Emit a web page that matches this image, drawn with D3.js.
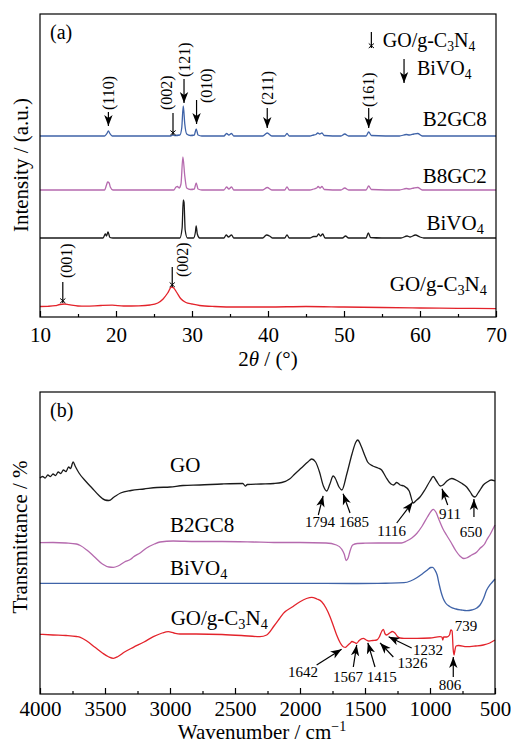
<!DOCTYPE html>
<html lang="en">
<head>
<meta charset="utf-8">
<title>XRD and FTIR of BiVO4 / GO/g-C3N4</title>
<script src="https://cdn.jsdelivr.net/npm/d3@7"></script>
<style>
body { margin: 0; background: #fff; }
text { font-family: "Liberation Serif", "Times New Roman", serif; fill: #000; }
</style>
</head>
<body>
<script>
// ---------- data ----------
var xrdTicks = [10, 20, 30, 40, 50, 60, 70];
var xrdMinor = [15, 25, 35, 45, 55, 65];
var ftirTicks = [4000, 3500, 3000, 2500, 2000, 1500, 1000, 500];
var ftirMinor = [3750, 3250, 2750, 2250, 1750, 1250, 750];

// XRD series: [2theta, intensity above own baseline]
var xrdB2GC8 = [[10,0],[15,0],[18.5,0],[18.8,2.5],[19.0,5],[19.2,2.5],[19.5,0],[27.2,0],[27.45,1],[27.7,0.5],[28.4,1],[28.65,8],[28.85,30],[29.05,12],[29.3,2],[29.8,0.5],[30.3,1],[30.55,7],[30.8,1],[31.3,0],[34.2,0],[34.55,2.5],[34.85,1],[35.2,2.5],[35.5,0],[39.3,0],[39.9,3],[40.5,0],[42.2,0],[42.5,2.5],[42.8,0],[45.5,0],[46.0,1],[46.3,1.5],[46.55,3],[46.8,2],[47.1,3],[47.4,0.5],[49.6,0],[50.1,2],[50.6,0],[52.9,0],[53.25,4],[53.6,0.5],[57.3,0],[58.2,1.5],[58.6,1],[59.2,2],[59.7,2.5],[60.3,0],[65,0],[70,0]];
var xrdB8GC2 = [[10,0],[15,0],[18.5,0],[18.75,5],[18.9,8],[19.1,7],[19.25,3],[19.6,0],[27.6,0],[27.9,3],[28.1,3.5],[28.3,2],[28.55,6],[28.8,33],[29.05,14],[29.3,2],[29.8,0.5],[30.3,1],[30.55,7],[30.8,1],[31.3,0],[34.2,0],[34.55,3],[34.85,1],[35.2,3],[35.5,0],[39.3,0],[39.9,2.5],[40.5,0],[42.2,0],[42.5,3],[42.8,0],[45.5,0],[46.0,1],[46.4,2],[46.6,3.5],[46.85,2],[47.1,3.5],[47.4,0.5],[49.6,0],[50.1,2],[50.6,0],[52.9,0],[53.25,4],[53.6,0.5],[57.3,0],[58.2,1.5],[58.6,1],[59.2,2],[59.7,2.5],[60.3,0],[65,0],[70,0]];
var xrdBiVO4 = [[10,0],[15,0],[18.3,0],[18.6,4],[18.75,2],[18.95,6],[19.2,0.5],[19.6,0],[28.4,0],[28.7,10],[28.85,38],[28.95,36],[29.1,8],[29.4,0],[30.2,0],[30.45,6],[30.55,12],[30.7,4],[31,0],[34.2,0],[34.5,3],[34.8,1],[35.2,3],[35.5,0],[39.3,0],[39.8,3],[40.3,1.5],[40.6,0],[42.2,0],[42.5,3],[42.8,0],[45.5,0],[46.0,1.5],[46.4,1.5],[46.65,4],[46.9,2],[47.2,4],[47.5,0],[49.8,0],[50.2,2],[50.6,0],[52.9,0],[53.2,5],[53.5,0.5],[55,0],[57.5,0],[58.3,2],[58.7,1],[59.4,3],[60.0,1],[60.5,0],[65,0],[70,0]];
var xrdGOCN = [[10,0.5],[11,0.7],[12,1.3],[12.6,2.5],[13.2,3],[13.8,2.3],[15,1],[16,0.8],[18,1.5],[19.5,1.8],[21,1],[23,1.2],[24.5,2],[25.5,4],[26.2,8],[26.8,14],[27.3,20],[27.6,19],[28,14.5],[28.5,8.5],[29.2,4.5],[30,3],[31,1.5],[33,0.5],[36,0],[40,0],[45,0.5],[50,0],[55,-0.5],[60,-1],[65,-1.3],[70,-1.7]];
var xrdNames = ["B2GC8", "B8GC2", "BiVO_4", "GO/g-C_3N_4"];
var xrdOffsets = [181, 127, 79, 10];

// peak markers: x = 2theta, tail/tip in intensity, kind b = BiVO4, g = GO/g-C3N4
var xrdNotes = [
  {label: "(110)", x: 19.0, tail: 205, tip: 187, lx: 19.0, ly: 207, kind: "b"},
  {label: "(002)", x: 27.5, tail: 204, tip: 182, lx: 26.7, ly: 207, kind: "g"},
  {label: "(121)", x: 28.95, tail: 238, tip: 210, lx: 29.0, ly: 240, kind: "b"},
  {label: "(010)", x: 30.6, tail: 217, tip: 189, lx: 32.0, ly: 214, kind: "b"},
  {label: "(211)", x: 39.9, tail: 209, tip: 185, lx: 39.9, ly: 212, kind: "b"},
  {label: "(161)", x: 53.25, tail: 209, tip: 185, lx: 53.3, ly: 210, kind: "b"},
  {label: "(001)", x: 13.0, tail: 35, tip: 14, lx: 13.5, ly: 39, kind: "g"},
  {label: "(002)", x: 27.4, tail: 50, tip: 30, lx: 28.8, ly: 40, kind: "g"}
];

// FTIR series: [wavenumber, transmittance (offset a.u.)]
var ftirGO = [[4000,216],[3980,217.5],[3960,216],[3940,219],[3920,217.5],[3900,220],[3880,218.5],[3860,222],[3840,220.5],[3820,224],[3800,222.5],[3780,227],[3765,225.5],[3745,232],[3730,228],[3700,221],[3650,213],[3600,206],[3550,199],[3500,194],[3470,193.5],[3430,197],[3380,201],[3300,203.5],[3200,205],[3100,206.5],[3000,207],[2900,208.5],[2770,209],[2600,210],[2440,210.5],[2420,208],[2405,209.5],[2300,210],[2200,210.5],[2140,211.5],[2080,215],[2040,220],[1990,226],[1940,232],[1910,235],[1880,232],[1850,222],[1820,208],[1795,203],[1770,210],[1745,218],[1730,216],[1700,207],[1678,204],[1640,220],[1600,240],[1570,252],[1556,254],[1530,248],[1500,238],[1480,232],[1440,228],[1400,226],[1372,224],[1340,217],[1300,210],[1280,209],[1256,211.5],[1230,209],[1200,208],[1160,203],[1128,191],[1110,193],[1077,197],[1040,204],[1000,213],[975,217.5],[950,213],[920,208],[900,209],[870,213],[833,215.5],[800,214],[760,211],[718,207],[690,202],[670,198],[654,197],[630,201],[610,205],[590,209],[560,212],[530,214],[500,213]];
var ftirB2GC8 = [[4000,151.3],[3900,151.5],[3800,151],[3720,150],[3690,148.5],[3640,144],[3580,137],[3520,130],[3470,127],[3436,126.7],[3400,128],[3350,132],[3300,135],[3282,137],[3230,141],[3180,146],[3120,150],[3077,152],[2975,153],[2800,152.5],[2600,152.5],[2360,152],[2200,151.5],[2000,151.5],[1800,151],[1720,149],[1680,145],[1660,140],[1645,133.5],[1630,136],[1615,143],[1595,149],[1560,150.5],[1500,150.8],[1400,151],[1300,151],[1220,151],[1180,153],[1140,156],[1102,160.5],[1060,168],[1020,177],[990,183],[975,184.7],[955,182],[930,174],[900,165],[873,159],[840,152],[800,143],[770,138],[740,135.5],[720,136],[680,139],[640,142],[615,145.7],[580,150],[564,154],[540,159],[520,164],[500,169]];
var ftirBiVO4 = [[4000,110.7],[3500,110.7],[3000,110.7],[2500,110.7],[2000,110.7],[1600,110.5],[1400,110.7],[1300,110.8],[1200,111.3],[1150,113],[1102,116.3],[1060,120],[1020,124],[995,126.5],[980,126.7],[962,124],[945,119],[930,110],[915,102],[900,96],[880,91],[846,87.3],[800,85],[760,84],[718,83.3],[680,84],[640,86],[615,89],[590,95],[564,104],[540,109],[520,112],[500,115]];
var ftirGOCN = [[4000,59.7],[3900,59],[3800,58.5],[3720,57.5],[3690,56.7],[3640,53],[3580,47],[3520,41],[3470,37],[3436,35.7],[3400,37.5],[3350,42],[3282,46.7],[3200,52],[3128,57.3],[3060,61],[3013,62.3],[2970,61],[2923,60],[2800,60],[2600,59.5],[2450,58.5],[2308,57.3],[2256,59],[2200,68],[2160,75],[2128,80.7],[2060,87],[2000,92.3],[1950,95.5],[1910,96.7],[1870,95],[1833,92.3],[1800,86],[1769,77.3],[1740,67],[1718,59],[1690,51],[1665,47],[1650,46.7],[1630,49],[1615,50.7],[1600,52.5],[1580,51.5],[1564,50.7],[1545,53.5],[1513,55.7],[1490,54],[1470,53],[1440,53.5],[1410,54],[1390,57],[1370,63],[1359,64.7],[1345,60],[1333,59],[1310,61],[1290,62.5],[1270,61],[1250,57.5],[1230,56],[1200,55.7],[1100,55.7],[1000,56],[923,57.3],[908,57],[902,54],[895,57],[870,57],[850,59],[840,64],[830,63],[822,45],[815,39],[808,44],[800,48],[780,48.5],[718,47.3],[650,48],[590,49],[540,51],[500,54]];
var ftirNames = ["GO", "B2GC8", "BiVO_4", "GO/g-C_3N_4"];

// band markers: tip / tail / label anchor as [wavenumber, value]
var ftirNotes = [
  {label: "1794", tip: [1815,202], tail: [1859,179], at: [1846,167]},
  {label: "1685", tip: [1679,204], tail: [1615,181], at: [1585,167]},
  {label: "1116", tip: [1115,195], tail: [1256,171], at: [1295,158]},
  {label: "911",  tip: [918,209],  tail: [864,189],  at: [846,175]},
  {label: "650",  tip: [662,199],  tail: [662,177],  at: [685,157]},
  {label: "1642", tip: [1654,47],  tail: [1872,29],  at: [1977,17]},
  {label: "1567", tip: [1559,53],  tail: [1590,27],  at: [1631,12]},
  {label: "1415", tip: [1487,55],  tail: [1423,27],  at: [1372,12]},
  {label: "1326", tip: [1405,54],  tail: [1282,37],  at: [1135,26]},
  {label: "1232", tip: [1346,59],  tail: [1141,46],  at: [1015,39]},
  {label: "806",  tip: [821,41],   tail: [821,17],   at: [846,4]},
  {label: "739",  at: [723,63]}
];

// ---------- styles ----------
var lineColors = ["#3f63a8", "#b56aae", "#1a1a1a", "#e3232b"];
var ftirColors = ["#1a1a1a", "#b56aae", "#3f63a8", "#e3232b"];

var W = 511, H = 746;
var svg = d3.select("body").append("svg").attr("width", W).attr("height", H);

// arrow heads
var defs = svg.append("defs");
defs.append("marker").attr("id", "head").attr("markerUnits", "userSpaceOnUse")
  .attr("viewBox", "-11 -5 12 10").attr("refX", 0).attr("refY", 0)
  .attr("markerWidth", 12).attr("markerHeight", 10).attr("orient", "auto")
  .append("path").attr("d", "M0,0 L-11,-4.2 L-8,0 L-11,4.2 Z").attr("fill", "#000");
defs.append("marker").attr("id", "xhead").attr("markerUnits", "userSpaceOnUse")
  .attr("viewBox", "-6 -4 8 8").attr("refX", 0).attr("refY", 0)
  .attr("markerWidth", 8).attr("markerHeight", 8).attr("orient", "auto")
  .append("path").attr("d", "M-4.5,-2.6 L0,2.6 M-4.5,2.6 L0,-2.6")
  .attr("stroke", "#000").attr("stroke-width", 1).attr("fill", "none");

// text with "_d" subscripts
function richText(t, str, size) {
  var parts = str.split(/(_\d)/).filter(function(s) { return s; });
  var down = 0;
  parts.forEach(function(p) {
    if (p[0] === "_") {
      t.append("tspan").attr("font-size", size * 0.68).attr("dy", 4).text(p.slice(1));
      down = 4;
    } else {
      t.append("tspan").attr("dy", -down).text(p);
      down = 0;
    }
  });
  return t;
}

function arrow(g, x1, y1, x2, y2, kind) {
  var dx = x2 - x1, dy = y2 - y1, len = Math.sqrt(dx * dx + dy * dy);
  var cut = kind === "g" ? 0 : 4;
  g.append("line")
    .attr("x1", x1).attr("y1", y1)
    .attr("x2", x2 - dx / len * cut).attr("y2", y2 - dy / len * cut)
    .attr("stroke", "#000").attr("stroke-width", 1.2)
    .attr("marker-end", kind === "g" ? "url(#xhead)" : "url(#head)");
}

function frameAxis(g, x, y, major, minor, fmt, labY) {
  var y0 = y.range()[0], y1 = y.range()[1];
  var xr = x.range();
  var ax = g.append("g").attr("transform", "translate(0," + y0 + ")")
    .call(d3.axisBottom(x).tickValues(major).tickSize(-6).tickFormat(fmt));
  ax.select(".domain").remove();
  ax.selectAll("line").attr("stroke", "#000").attr("stroke-width", 1.2);
  ax.selectAll("text").attr("y", labY).attr("dy", null)
    .attr("font-size", 21).attr("font-family", "Liberation Serif, serif").attr("fill", "#000");
  var mi = g.append("g").attr("transform", "translate(0," + y0 + ")")
    .call(d3.axisBottom(x).tickValues(minor).tickSize(-3).tickFormat(""));
  mi.select(".domain").remove();
  mi.selectAll("line").attr("stroke", "#000").attr("stroke-width", 1.2);
  g.append("rect").attr("x", xr[0]).attr("y", y1)
    .attr("width", xr[1] - xr[0]).attr("height", y0 - y1)
    .attr("fill", "none").attr("stroke", "#000").attr("stroke-width", 1.2);
}

// ---------- panel (a) XRD ----------
var xA = d3.scaleLinear().domain([10, 70]).range([40, 496]);
var yA = d3.scaleLinear().domain([0, 303]).range([317, 14]);
var gA = svg.append("g");

var xrdSeries = [xrdB2GC8, xrdB8GC2, xrdBiVO4, xrdGOCN];
xrdSeries.forEach(function(s, i) {
  var line = d3.line()
    .x(function(d) { return xA(d[0]); })
    .y(function(d) { return yA(d[1] + xrdOffsets[i]); })
    .curve(d3.curveMonotoneX);
  gA.append("path").datum(s).attr("d", line)
    .attr("fill", "none").attr("stroke", lineColors[i]).attr("stroke-width", 1.3);
});

frameAxis(gA, xA, yA, xrdTicks, xrdMinor, d3.format("d"), 25);

// series names (right aligned)
var xrdLabelAt = [[68.8, 191], [68.8, 134.5], [68.4, 87], [68.8, 26.3]];
xrdNames.forEach(function(n, i) {
  var t = gA.append("text").attr("x", xA(xrdLabelAt[i][0])).attr("y", yA(xrdLabelAt[i][1]))
    .attr("text-anchor", "end").attr("font-size", 21);
  richText(t, n, 21);
});

xrdNotes.forEach(function(d) {
  arrow(gA, xA(d.x), yA(d.tail), xA(d.x), yA(d.tip), d.kind);
  gA.append("text")
    .attr("transform", "translate(" + xA(d.lx) + "," + yA(d.ly) + ") rotate(-90)")
    .attr("dy", "0.33em").attr("font-size", 16).text(d.label);
});

// legend
arrow(gA, xA(53.6), yA(285), xA(53.6), yA(269), "g");
richText(gA.append("text").attr("x", xA(55.1)).attr("y", yA(270.3)).attr("font-size", 20), "GO/g-C_3N_4", 20);
arrow(gA, xA(57.9), yA(258), xA(57.9), yA(230), "b");
richText(gA.append("text").attr("x", xA(59.6)).attr("y", yA(242)).attr("font-size", 20), "BiVO_4", 20);

gA.append("text").attr("x", 50).attr("y", 39).attr("font-size", 20).text("(a)");

var tA = gA.append("text").attr("x", 268).attr("y", 366).attr("text-anchor", "middle").attr("font-size", 21);
tA.append("tspan").text("2");
tA.append("tspan").attr("font-style", "italic").text("\u03b8");
tA.append("tspan").text(" / (\u00b0)");

gA.append("text").attr("transform", "translate(28,165) rotate(-90)")
  .attr("text-anchor", "middle").attr("font-size", 21).text("Intensity / (a.u.)");

// ---------- panel (b) FTIR ----------
var xB = d3.scaleLinear().domain([4000, 500]).range([40, 495]);
var yB = d3.scaleLinear().domain([0, 302]).range([694, 392]);
var gB = svg.append("g");

var ftirSeries = [ftirGO, ftirB2GC8, ftirBiVO4, ftirGOCN];
var lineB = d3.line()
  .x(function(d) { return xB(d[0]); })
  .y(function(d) { return yB(d[1]); })
  .curve(d3.curveMonotoneX);
ftirSeries.forEach(function(s, i) {
  gB.append("path").datum(s).attr("d", lineB)
    .attr("fill", "none").attr("stroke", ftirColors[i]).attr("stroke-width", 1.3);
});

frameAxis(gB, xB, yB, ftirTicks, ftirMinor, d3.format("d"), 22);

var ftirLabelAt = [[3000, 222.3], [3000, 162.3], [3000, 119], [2995, 69]];
ftirNames.forEach(function(n, i) {
  var t = gB.append("text").attr("x", xB(ftirLabelAt[i][0])).attr("y", yB(ftirLabelAt[i][1]))
    .attr("font-size", 21);
  richText(t, n, 21);
});

ftirNotes.forEach(function(d) {
  if (d.tip) arrow(gB, xB(d.tail[0]), yB(d.tail[1]), xB(d.tip[0]), yB(d.tip[1]), "b");
  gB.append("text").attr("x", xB(d.at[0])).attr("y", yB(d.at[1]))
    .attr("text-anchor", "middle").attr("font-size", 15).text(d.label);
});

gB.append("text").attr("x", 50).attr("y", 417).attr("font-size", 20).text("(b)");

var tB = gB.append("text").attr("x", 262).attr("y", 739).attr("text-anchor", "middle").attr("font-size", 21);
tB.append("tspan").text("Wavenumber / cm");
tB.append("tspan").attr("font-size", 14).attr("dy", -8).text("\u22121");

gB.append("text").attr("transform", "translate(27,537) rotate(-90)")
  .attr("text-anchor", "middle").attr("font-size", 21).text("Transmittance / %");
</script>
</body>
</html>
